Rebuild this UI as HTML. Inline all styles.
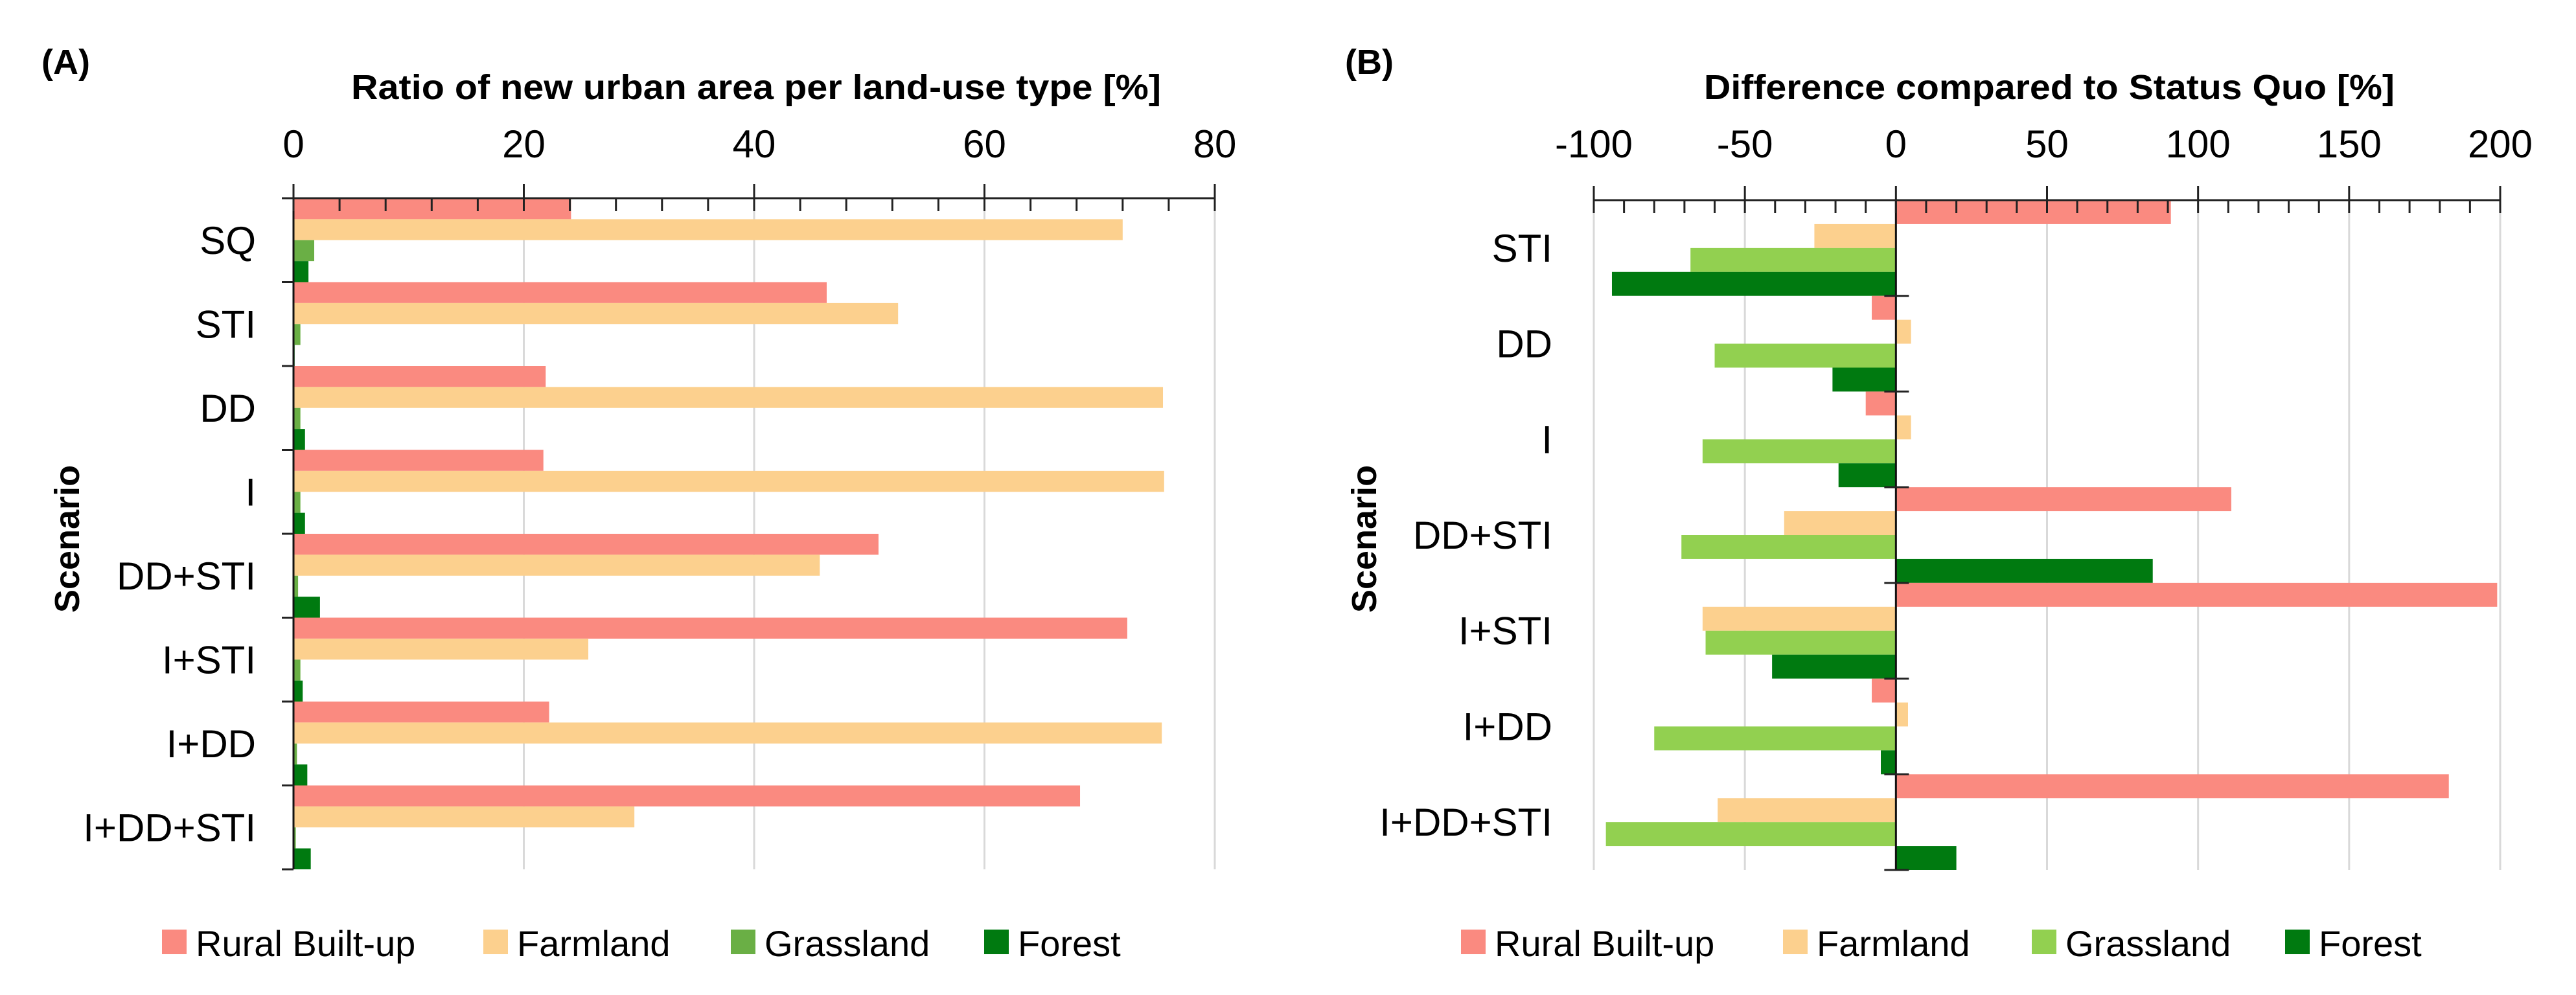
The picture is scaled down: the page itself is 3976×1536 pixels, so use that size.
<!DOCTYPE html>
<html><head><meta charset="utf-8"><style>
html,body{margin:0;padding:0;background:#fff;}
svg{display:block;font-family:"Liberation Sans",sans-serif;}
</style></head><body>
<svg id="c" width="3976" height="1536" viewBox="0 0 3976 1536" xmlns="http://www.w3.org/2000/svg">
<text x="64" y="114" font-size="54" font-weight="bold">(A)</text>
<text x="1167" y="153" font-size="54" font-weight="bold" text-anchor="middle" textLength="1250" lengthAdjust="spacingAndGlyphs">Ratio of new urban area per land-use type [%]</text>
<text transform="translate(122,832) rotate(-90)" font-size="54" font-weight="bold" text-anchor="middle">Scenario</text>
<text x="2076" y="114" font-size="54" font-weight="bold">(B)</text>
<text x="3163" y="153" font-size="54" font-weight="bold" text-anchor="middle" textLength="1066" lengthAdjust="spacingAndGlyphs">Difference compared to Status Quo [%]</text>
<text transform="translate(2124,832) rotate(-90)" font-size="54" font-weight="bold" text-anchor="middle">Scenario</text>
<g id="pa"></g>
<g id="pb"></g>
</svg>
<script>
const catsA = ["SQ","STI","DD","I","DD+STI","I+STI","I+DD","I+DD+STI"];
const ruralA = [24.1,46.3,21.9,21.7,50.8,72.4,22.2,68.3];
const farmA = [72.0,52.5,75.5,75.6,45.7,25.6,75.4,29.6];
const grassA = [1.8,0.6,0.6,0.6,0.4,0.6,0.3,0.2];
const forestA = [1.3,0.1,1.0,1.0,2.3,0.8,1.2,1.5];
const ticksA = [0,20,40,60,80];

const catsB = ["STI","DD","I","DD+STI","I+STI","I+DD","I+DD+STI"];
const ruralB = [91,-8,-10,111,199,-8,183];
const farmB = [-27,5,5,-37,-64,4,-59];
const grassB = [-68,-60,-64,-71,-63,-80,-96];
const forestB = [-94,-21,-19,85,-41,-5,20];
const ticksB = [-100,-50,0,50,100,150,200];

const NS="http://www.w3.org/2000/svg";
function mk(parent,tag,attrs,txt){const e=document.createElementNS(NS,tag);for(const k in attrs)e.setAttribute(k,attrs[k]);if(txt!==undefined)e.textContent=txt;parent.appendChild(e);return e;}

function panel(g,o){
  const xs=v=>o.x0+(v-o.min)/(o.max-o.min)*(o.x1-o.x0);
  const gh=(o.y1-o.y0)/o.cats.length;
  const bh=gh/4;
  o.ticks.forEach(t=>{
    const l=mk(g,'line',{x1:xs(t),x2:xs(t),y1:o.y0,y2:o.y1,stroke:'#d9d9d9','stroke-width':3});
    
    
    const tx=mk(g,'text',{x:xs(t),y:243,'font-size':60,'text-anchor':'middle'},String(t));
    
    
  });
  const series=[[o.s[0],o.col[0],'rural-built-up'],[o.s[1],o.col[1],'farmland'],[o.s[2],o.col[2],'grassland'],[o.s[3],o.col[3],'forest']];
  o.cats.forEach((c,i)=>{
    series.forEach((s,j)=>{
      const v=s[0][i];const a=xs(0),b=xs(v);
      const r=mk(g,'rect',{x:Math.min(a,b),y:o.y0+i*gh+j*bh,width:Math.abs(b-a),height:bh,fill:s[1]});
      
      
    });
    const t=mk(g,'text',{x:o.labX,y:o.y0+(i+0.5)*gh+21,'font-size':60,'text-anchor':'end'},c);
    
    
  });
  const ax=mk(g,'line',{x1:o.x0,x2:o.x1,y1:o.y0,y2:o.y0,stroke:'#222','stroke-width':3});
  
  
  const z=xs(0);
  const ay=mk(g,'line',{x1:z,x2:z,y1:o.y0,y2:o.y1,stroke:'#111','stroke-width':3});
  
  
  for(let v=o.min;v<=o.max+1e-9;v+=o.minor){
    const major=o.ticks.some(t=>Math.abs(t-v)<1e-9);
    const tk=mk(g,'line',{x1:xs(v),x2:xs(v),y1:major?o.y0-22:o.y0,y2:o.y0+20,stroke:'#222','stroke-width':3});
    
    
  }
  for(let i=0;i<=o.cats.length;i++){
    const yy=o.y0+i*gh;
    const tk=mk(g,'line',{x1:z-18,x2:z+o.tickR,y1:yy,y2:yy,stroke:'#222','stroke-width':3});
    
    
  }
  const names=['Rural Built-up','Farmland','Grassland','Forest'];
  names.forEach((n,j)=>{
    const sq=mk(g,'rect',{x:o.leg[j],y:1435,width:38,height:38,fill:o.col[j]});
    
    
    const t=mk(g,'text',{x:o.leg[j]+52,y:1476,'font-size':56},n);
    
    
  });
}
panel(document.getElementById('pa'),{x0:453,x1:1875,min:0,max:80,y0:306,y1:1342,cats:catsA,
  s:[ruralA,farmA,grassA,forestA],col:['#fa8a80','#fcd08e','#6aaf45','#007a10'],ticks:ticksA,minor:4,labX:395,tickR:0,
  leg:[250,746,1128,1519]});
panel(document.getElementById('pb'),{x0:2460,x1:3859,min:-100,max:200,y0:309,y1:1343,cats:catsB,
  s:[ruralB,farmB,grassB,forestB],col:['#fa8a80','#fcd08e','#92d050','#007a10'],ticks:ticksB,minor:10,labX:2396,tickR:20,
  leg:[2255,2752,3136,3527]});
</script>
</body></html>
